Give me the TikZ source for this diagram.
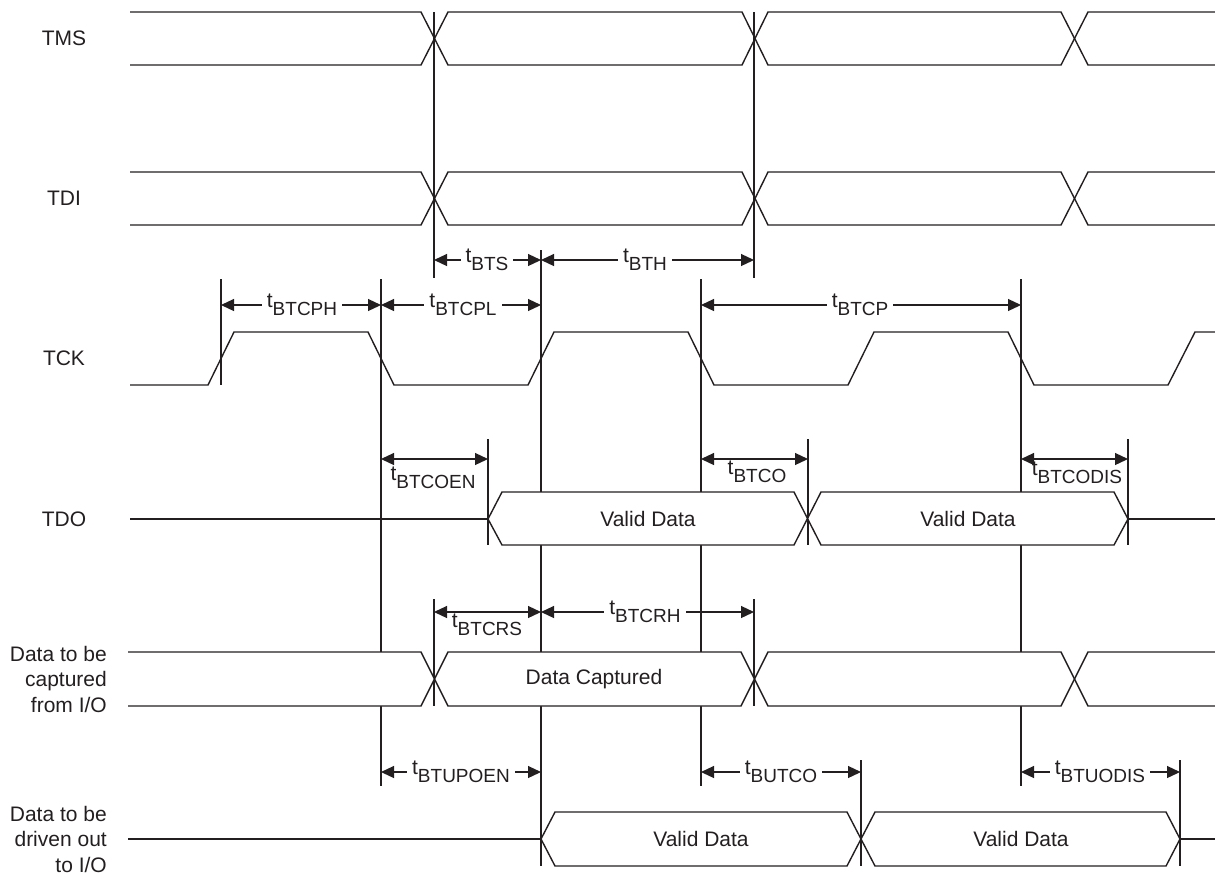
\documentclass[tikz,border=0pt]{standalone}
\usepackage{fontspec}
\setmainfont{Liberation Sans}
\usetikzlibrary{arrows.meta}
\definecolor{ink}{HTML}{231F20}
\newcommand\tsub[1]{t\raisebox{-8pt}{\fontsize{19}{19}\selectfont #1}}
\begin{document}
\begin{tikzpicture}[x=1pt,y=-1pt, ink,
  wave/.style={line width=1.4pt, line join=miter},
  busfill/.style={fill=white, draw=none},
  vline/.style={line width=1.2pt},
  dim/.style={{Triangle[length=13pt,width=12pt]}-{Triangle[length=13pt,width=12pt]}, line width=1.2pt},
  lbl/.style={font=\fontsize{21}{25.5}\selectfont, text=ink, inner sep=0pt},
  tl/.style={font=\fontsize{21}{21}\selectfont, text=ink, anchor=base, inner xsep=5pt, inner ysep=0pt},
  tlw/.style={tl, fill=white}]
\useasboundingbox (0,0) rectangle (1215,879);

% vertical reference lines (drawn first, hidden inside data regions)
\draw[vline] (434,12) -- (434,278);
\draw[vline] (754,12) -- (754,278);
\draw[vline] (434,599) -- (434,706);
\draw[vline] (754,599) -- (754,706);
\draw[vline] (541,250) -- (541,866);
\draw[vline] (221,279) -- (221,385);
\draw[vline] (381,279) -- (381,786);
\draw[vline] (701,279) -- (701,786);
\draw[vline] (1021,279) -- (1021,786);
\draw[vline] (488,439) -- (488,545);
\draw[vline] (808,439) -- (808,545);
\draw[vline] (1128,439) -- (1128,545);
\draw[vline] (861,760) -- (861,866);
\draw[vline] (1180,760) -- (1180,866);

% signal names
\node[lbl] (tms) at (64,38) {TMS};
\node[lbl] (tdi) at (64,198) {TDI};
\node[lbl] (tck) at (64,358) {TCK};
\node[lbl] (tdo) at (64,519) {TDO};
\node[lbl, align=right, anchor=east] (cap) at (107,679) {Data to be\\captured\\from I/O};
\node[lbl, align=right, anchor=east] (drv) at (107,839) {Data to be\\driven out\\to I/O};

% TMS
\draw[wave] (130,12) -- (421,12) -- (448,65) -- (742,65) -- (768,12) -- (1061,12) -- (1088,65) -- (1215,65);
\draw[wave] (130,65) -- (421,65) -- (448,12) -- (742,12) -- (768,65) -- (1061,65) -- (1088,12) -- (1215,12);
% TDI
\draw[wave] (130,172) -- (421,172) -- (448,225) -- (742,225) -- (768,172) -- (1061,172) -- (1088,225) -- (1215,225);
\draw[wave] (130,225) -- (421,225) -- (448,172) -- (742,172) -- (768,225) -- (1061,225) -- (1088,172) -- (1215,172);
% TCK
\draw[wave] (130,385) -- (208,385) -- (234,332) -- (368,332) -- (394,385) -- (528,385) -- (554,332) -- (688,332) -- (714,385) -- (848,385) -- (874,332) -- (1008,332) -- (1034,385) -- (1168,385) -- (1195,332) -- (1215,332);
% TDO
\fill[busfill] (488,519) -- (502,492) -- (794,492) -- (808,519) -- (794,545) -- (502,545) -- cycle;
\fill[busfill] (808,519) -- (821,492) -- (1114,492) -- (1128,519) -- (1114,545) -- (821,545) -- cycle;
\draw[wave] (130,519) -- (488,519);
\draw[wave] (488,519) -- (502,492) -- (794,492) -- (821,545) -- (1114,545) -- (1128,519) -- (1114,492) -- (821,492) -- (794,545) -- (502,545) -- cycle;
\draw[wave] (1128,519) -- (1215,519);
\node[lbl] (vd1) at (648,519) {Valid Data};
\node[lbl] (vd2) at (968,519) {Valid Data};
% Data captured
\fill[busfill] (128,652) -- (421,652) -- (434,679) -- (421,706) -- (128,706) -- cycle;
\fill[busfill] (434,679) -- (448,652) -- (741,652) -- (754,679) -- (741,706) -- (448,706) -- cycle;
\fill[busfill] (754,679) -- (768,652) -- (1061,652) -- (1074,679) -- (1061,706) -- (768,706) -- cycle;
\fill[busfill] (1074,679) -- (1088,652) -- (1215,652) -- (1215,706) -- (1088,706) -- cycle;
\draw[wave] (128,652) -- (421,652) -- (448,706) -- (741,706) -- (768,652) -- (1061,652) -- (1088,706) -- (1215,706);
\draw[wave] (128,706) -- (421,706) -- (448,652) -- (741,652) -- (768,706) -- (1061,706) -- (1088,652) -- (1215,652);
\node[lbl] (dc) at (594,679) {Data Captured};
% Data driven out
\fill[busfill] (541,839) -- (555,812) -- (847,812) -- (861,839) -- (847,866) -- (555,866) -- cycle;
\fill[busfill] (861,839) -- (875,812) -- (1166,812) -- (1180,839) -- (1166,866) -- (875,866) -- cycle;
\draw[wave] (128,839) -- (541,839);
\draw[wave] (541,839) -- (555,812) -- (847,812) -- (875,866) -- (1166,866) -- (1180,839) -- (1166,812) -- (875,812) -- (847,866) -- (555,866) -- cycle;
\draw[wave] (1180,839) -- (1215,839);
\node[lbl] (vd3) at (701,839) {Valid Data};
\node[lbl] (vd4) at (1021,839) {Valid Data};

% dimension coordinates
\coordinate (a1) at (434,260); \coordinate (a2) at (541,260); \coordinate (a3) at (754,260);
\coordinate (b1) at (221,305); \coordinate (b2) at (381,305); \coordinate (b3) at (541,305);
\coordinate (b4) at (701,305); \coordinate (b5) at (1021,305);
\coordinate (c1) at (381,459); \coordinate (c2) at (488,459);
\coordinate (c3) at (701,459); \coordinate (c4) at (808,459);
\coordinate (c5) at (1021,459); \coordinate (c6) at (1128,459);
\coordinate (d1) at (434,612); \coordinate (d2) at (541,612); \coordinate (d3) at (754,612);
\coordinate (e1) at (381,772); \coordinate (e2) at (541,772);
\coordinate (e3) at (701,772); \coordinate (e4) at (861,772);
\coordinate (e5) at (1021,772); \coordinate (e6) at (1180,772);

\draw[dim] (a1) -- (a2);
\draw[dim] (a2) -- (a3);
\draw[dim] (b1) -- (b2);
\draw[dim] (b2) -- (b3);
\draw[dim] (b4) -- (b5);
\draw[dim] (c1) -- (c2);
\draw[dim] (c3) -- (c4);
\draw[dim] (c5) -- (c6);
\draw[dim] (d1) -- (d2);
\draw[dim] (d2) -- (d3);
\draw[dim] (e1) -- (e2);
\draw[dim] (e3) -- (e4);
\draw[dim] (e5) -- (e6);

% timing labels
\node[tlw] (lbts) at (487,262) {\tsub{BTS}};
\node[tlw] (lbth) at (645,262) {\tsub{BTH}};
\node[tlw] (lcph) at (302,307) {\tsub{BTCPH}};
\node[tlw] (lcpl) at (463,307) {\tsub{BTCPL}};
\node[tlw] (lcp) at (860,307) {\tsub{BTCP}};
\node[tl] (lcoen) at (433,480) {\tsub{BTCOEN}};
\node[tl] (lco) at (757,474) {\tsub{BTCO}};
\node[tl] (lcodis) at (1077,475) {\tsub{BTCODIS}};
\node[tl] (lcrs) at (487,627) {\tsub{BTCRS}};
\node[tlw] (lcrh) at (645,614) {\tsub{BTCRH}};
\node[tlw] (lupoen) at (461,774) {\tsub{BTUPOEN}};
\node[tlw] (lutco) at (781,774) {\tsub{BUTCO}};
\node[tlw] (luodis) at (1100,774) {\tsub{BTUODIS}};
\end{tikzpicture}
\end{document}
